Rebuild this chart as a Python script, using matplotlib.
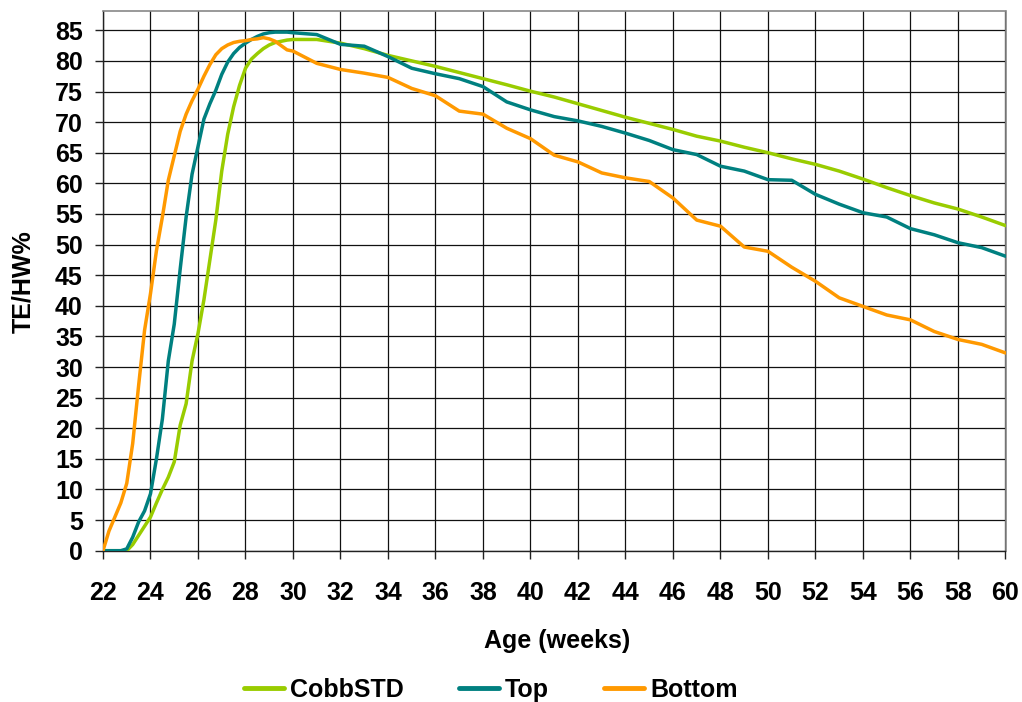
import matplotlib
matplotlib.use("Agg")
import matplotlib.pyplot as plt
import numpy as np

plt.rcParams['font.family'] = ['Liberation Sans', 'DejaVu Sans']

# ---------------- data ----------------
age_early = [22.0, 22.25, 22.5, 22.75, 23.0, 23.25, 23.5, 23.75, 24.0, 24.25, 24.5, 24.75,
             25.0, 25.25, 25.5, 25.75, 26.0, 26.25, 26.5, 26.75, 27.0, 27.25, 27.5, 27.75,
             28.0, 28.25, 28.5, 28.75, 29.0, 29.25, 29.5, 29.75, 30.0]
age_late = list(range(31, 61))
age = age_early + age_late

cobb_std = [0, 0, 0, 0, 0, 1.0, 2.5, 4.0, 5.5, 7.8, 10, 12,
            14.5, 20.5, 24, 31, 35.5, 41, 47.5, 54, 62, 68, 72.5, 76,
            78.8, 80.3, 81.2, 82, 82.6, 83, 83.2, 83.4, 83.5,
            83.5, 82.9, 82.0, 80.9, 80.0, 79.1, 78.1, 77.1, 76.1, 75.05,
            74.1, 73.0, 71.9, 70.8, 69.8, 68.8, 67.7, 66.9, 65.9, 65.0,
            64.0, 63.1, 62.0, 60.7, 59.3, 58.0, 56.8, 55.8, 54.5, 53.1]

top = [0, 0, 0, 0, 0.3, 2.2, 4.7, 6.5, 9.3, 15, 21.5, 31,
       37, 46, 54.5, 61.5, 66, 70.5, 73, 75.2, 77.8, 79.8, 81.2, 82.2,
       82.9, 83.5, 84, 84.4, 84.6, 84.7, 84.7, 84.7, 84.6,
       84.3, 82.7, 82.4, 80.7, 78.8, 77.9, 77.1, 75.8, 73.3, 72.0,
       70.9, 70.2, 69.3, 68.2, 67.0, 65.5, 64.7, 62.8, 62.0, 60.6,
       60.5, 58.2, 56.6, 55.2, 54.5, 52.6, 51.6, 50.3, 49.5, 48.1]

bottom = [0, 3.2, 5.5, 7.8, 11, 17.5, 27, 36, 42, 49, 54.5, 60.5,
          64.5, 68.5, 71.3, 73.5, 75.4, 77.5, 79.4, 81, 82, 82.6, 83, 83.2,
          83.3, 83.5, 83.6, 83.8, 83.6, 83.2, 82.5, 81.8, 81.6,
          79.6, 78.6, 78.0, 77.3, 75.5, 74.3, 71.8, 71.3, 69.0, 67.3,
          64.6, 63.5, 61.7, 60.9, 60.3, 57.6, 54.0, 53.0, 49.6, 48.9,
          46.3, 44.0, 41.3, 39.9, 38.5, 37.7, 35.8, 34.5, 33.7, 32.3]

series_names = ["CobbSTD", "Top", "Bottom"]
series_colors = ["#99CC00", "#008080", "#FF9900"]
x_ticks = list(range(22, 61, 2))
y_ticks = list(range(0, 86, 5))

FS = 18

# ---------------- figure ----------------
fig = plt.figure(figsize=(10.22, 7.02), dpi=100)
ax = fig.add_axes([103 / 1022, 1 - 550.7 / 702, (1005.5 - 103) / 1022, (550.7 - 11.3) / 702])

for vals, name, col in zip([cobb_std, top, bottom], series_names, series_colors):
    ax.plot(age, vals, color=col, lw=2.5, label=name, solid_capstyle='round', zorder=3)

ax.set_xlim(22, 60)
ax.set_ylim(0, 88.1)
ax.set_xticks(x_ticks)
ax.set_yticks(y_ticks)
ax.grid(True, color='#111111', lw=0.9, zorder=1)
ax.set_axisbelow(True)

for s in ['top', 'right']:
    ax.spines[s].set_color('#888888')
    ax.spines[s].set_linewidth(1.2)
for s in ['left', 'bottom']:
    ax.spines[s].set_color('#222222')
    ax.spines[s].set_linewidth(1.0)

ax.tick_params(axis='both', direction='out', length=5.5, width=1.0, color='#222222',
               labelsize=FS)
ax.tick_params(axis='x', pad=16)
ax.tick_params(axis='y', pad=9)
for lbl in ax.get_xticklabels() + ax.get_yticklabels():
    lbl.set_fontweight('bold')

fig.text(23 / 1022, 1 - 282 / 702, "TE/HW%", rotation=90, ha='center', va='center',
         fontsize=FS, fontweight='bold')
fig.text(557 / 1022, 1 - 641 / 702, "Age (weeks)", ha='center', va='center',
         fontsize=FS, fontweight='bold')

leg = fig.legend(loc='center', bbox_to_anchor=(490.5 / 1022, 1 - 690 / 702), ncol=3,
                 frameon=False, prop={'size': FS, 'weight': 'bold'},
                 handlelength=1.6, handletextpad=0.25, columnspacing=2.2,
                 borderpad=0, borderaxespad=0)
for h in leg.get_lines():
    h.set_linewidth(3.5)

fig.savefig("out.png", dpi=100)
